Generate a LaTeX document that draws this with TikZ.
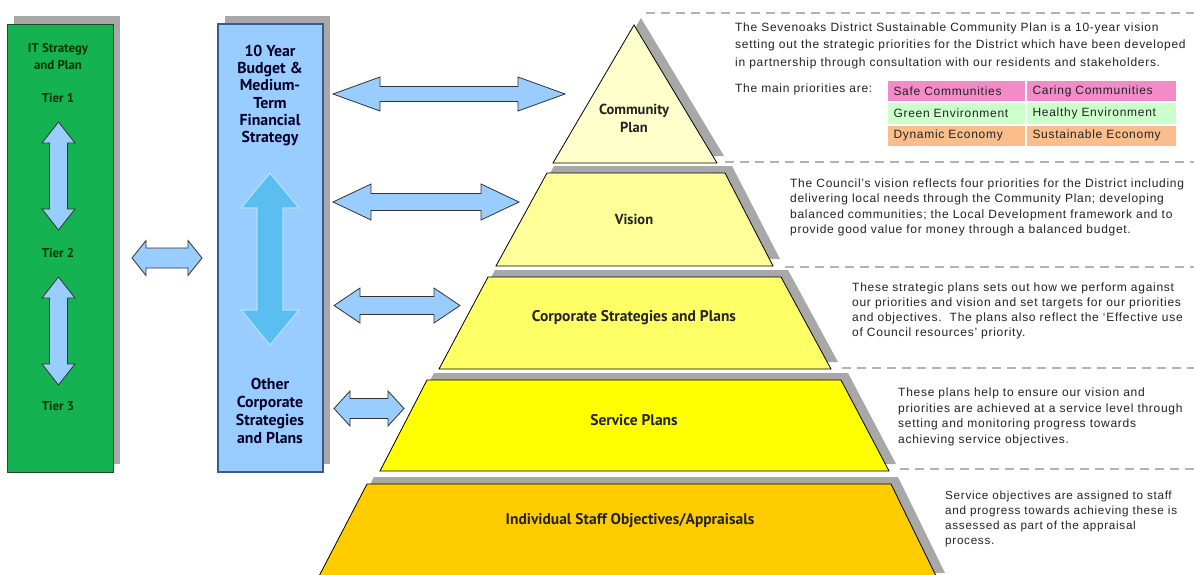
\documentclass[tikz,border=0pt]{standalone}
\usepackage{fontspec}
\setmainfont{PT Sans}
\newfontfamily\bodyfont[LetterSpace=6]{Liberation Sans}
\usetikzlibrary{positioning, shadows}

\definecolor{itgreen}{RGB}{20,178,80}
\definecolor{itline}{RGB}{30,70,40}
\definecolor{budgetblue}{RGB}{153,204,255}
\definecolor{budgetline}{RGB}{60,90,140}
\definecolor{bigarrow}{RGB}{90,190,240}
\definecolor{bigarrowline}{RGB}{175,225,250}
\definecolor{tierA}{RGB}{255,255,204}
\definecolor{tierB}{RGB}{255,255,153}
\definecolor{tierC}{RGB}{255,255,102}
\definecolor{tierD}{RGB}{255,255,0}
\definecolor{tierE}{RGB}{255,204,0}
\definecolor{shadowgray}{RGB}{168,168,168}
\definecolor{dashgray}{RGB}{178,178,178}
\definecolor{prioPink}{RGB}{242,140,200}
\definecolor{prioGreen}{RGB}{204,255,204}
\definecolor{prioOrange}{RGB}{250,190,140}
\definecolor{textgray}{RGB}{35,35,35}

% block arrows: left x, right x, centre y, half shaft, half head, head length
\newcommand{\hdarrow}[6]{%
  \filldraw[blockarrow] (#1,#3) -- (#1+#6,#3-#5) -- (#1+#6,#3-#4) -- (#2-#6,#3-#4)
    -- (#2-#6,#3-#5) -- (#2,#3) -- (#2-#6,#3+#5) -- (#2-#6,#3+#4)
    -- (#1+#6,#3+#4) -- (#1+#6,#3+#5) -- cycle;}
% top y, bottom y, centre x, half shaft, half head, head length
\newcommand{\vdarrow}[7][blockarrow]{%
  \filldraw[#1] (#4,#2) -- (#4+#6,#2+#7) -- (#4+#5,#2+#7) -- (#4+#5,#3-#7)
    -- (#4+#6,#3-#7) -- (#4,#3) -- (#4-#6,#3-#7) -- (#4-#5,#3-#7)
    -- (#4-#5,#2+#7) -- (#4-#6,#2+#7) -- cycle;}

\tikzset{
  blockarrow/.style={fill=budgetblue, draw=black!80, line width=0.8pt},
  bigblockarrow/.style={fill=bigarrow, draw=bigarrowline, line width=1.2pt},
  barshadow/.style={drop shadow={shadow xshift=7pt, shadow yshift=8pt, fill=shadowgray, opacity=1}},
  tiershadow/.style={drop shadow={shadow xshift=7pt, shadow yshift=7pt, fill=shadowgray, opacity=1}},
  sepline/.style={draw=dashgray, line width=2.6pt, dash pattern=on 9pt off 6pt},
  tierlabel/.style={font=\bfseries\fontsize{15.5}{18}\selectfont, text=textgray, inner sep=0pt},
  barlabel/.style={font=\bfseries\fontsize{15.8}{17.2}\selectfont, text=black!85!blue, align=center, inner sep=0pt},
  itlabel/.style={font=\bfseries\fontsize{12.8}{17}\selectfont, text=black!80!green, align=center, inner sep=0pt},
  bodytext/.style={font=\bodyfont\fontsize{12}{15.5}\selectfont, text=textgray, align=left, anchor=north west, inner sep=0pt},
  prio/.style={font=\bodyfont\fontsize{12}{14}\selectfont, text=textgray, anchor=north west, inner xsep=6pt, inner ysep=0pt,
    minimum height=21.3pt, align=left, draw=white, line width=1pt}
}

\begin{document}
\begin{tikzpicture}[x=1pt, y=-1pt]
  \path[use as bounding box, fill=white] (0,0) rectangle (1194,574);

  % left bars
  \filldraw[barshadow, fill=itgreen, draw=itline, line width=0.8pt] (7,24) rectangle (113,472);
  \filldraw[barshadow, fill=budgetblue, draw=budgetline, line width=1.3pt] (218,24) rectangle (323,472);

  \node[itlabel] (itTitle) at (58,56.5) {IT Strategy\\and Plan};
  \node[itlabel] (tierOne) at (58,98) {Tier 1};
  \node[itlabel] (tierTwo) at (58,253) {Tier 2};
  \node[itlabel] (tierThree) at (58,406) {Tier 3};
  \vdarrow{122}{230}{58.5}{9}{16.5}{21}
  \vdarrow{277}{385}{58.5}{9}{16.5}{21}

  \node[barlabel] (budget) at (270,95.5) {10 Year\\Budget \&\\Medium-\\Term\\Financial\\Strategy};
  \node[barlabel, font=\bfseries\fontsize{15.8}{18}\selectfont] (otherPlans) at (270,410.5) {Other\\Corporate\\Strategies\\and Plans};
  \vdarrow[bigblockarrow]{173}{345}{270}{13}{29}{35}

  \hdarrow{132}{202}{258}{10}{17.5}{14}

  % pyramid
  \filldraw[tiershadow, fill=tierA, draw=black, line width=0.8pt] (634,25) -- (717,163) -- (553,163) -- cycle;
  \foreach \yt/\yb/\tl/\tr/\bl/\br/\col in {173/266/547/725/496/773/tierB,
      277/369/488/781/439/831/tierC, 380/471/427/841/380/889/tierD, 484/580/367/891/317/938/tierE}
    \filldraw[tiershadow, fill=\col, draw=black, line width=0.8pt]
      (\tl,\yt) -- (\tr,\yt) -- (\br,\yb) -- (\bl,\yb) -- cycle;

  \node[tierlabel, align=center, font=\bfseries\fontsize{14.5}{18}\selectfont] (community) at (634,118) {Community\\Plan};
  \node[tierlabel, font=\bfseries\fontsize{14.5}{18}\selectfont] (vision) at (634,219) {Vision};
  \node[tierlabel] (corporate) at (634,318) {Corporate Strategies and Plans};
  \node[tierlabel] (service) at (634,420) {Service Plans};
  \node[tierlabel] (staff) at (630,521) {Individual Staff Objectives/Appraisals};

  % arrows to the tiers
  \hdarrow{333}{565}{94}{7.5}{17}{47}
  \hdarrow{333}{519}{202}{8.5}{18}{38}
  \hdarrow{334}{460}{305.5}{9}{17.5}{26}
  \hdarrow{334}{404}{408.5}{10}{17.5}{16}

  % separators
  \draw[sepline] (646,13) -- (1194,13);
  \draw[sepline] (725,162) -- (1194,162);
  \draw[sepline] (785,267) -- (1194,267);
  \draw[sepline] (842,368) -- (1194,368);
  \draw[sepline] (900,469) -- (1194,469);

  % descriptions
  \node[bodytext, font=\bodyfont\fontsize{12}{17.5}\selectfont] (communityText) at (735,22.4)
    {The Sevenoaks District Sustainable Community Plan is a 10-year vision\\
     setting out the strategic priorities for the District which have been developed\\
     in partnership through consultation with our residents and stakeholders.};
  \node[bodytext, anchor=west] (prioText) at (735,89.5) {The main priorities are:};
  \node[prio, fill=prioPink, text width=126pt] (safe) at (887,80) {Safe Communities};
  \node[prio, fill=prioPink, text width=138pt, right=0pt of safe] (caring) {Caring Communities};
  \node[prio, fill=prioGreen, text width=126pt, below=0pt of safe] (green) {Green Environment};
  \node[prio, fill=prioGreen, text width=138pt, right=0pt of green] (healthy) {Healthy Environment};
  \node[prio, fill=prioOrange, text width=126pt, below=0pt of green] (dynamic) {Dynamic Economy};
  \node[prio, fill=prioOrange, text width=138pt, right=0pt of dynamic] (sustainable) {Sustainable Economy};

  \node[bodytext] (visionText) at (790,178.4)
    {The Council’s vision reflects four priorities for the District including\\
     delivering local needs through the Community Plan; developing\\
     balanced communities; the Local Development framework and to\\
     provide good value for money through a balanced budget.};
  \node[bodytext, font=\bodyfont\fontsize{12}{15}\selectfont] (corporateText) at (852,282.4)
    {These strategic plans sets out how we perform against\\
     our priorities and vision and set targets for our priorities\\
     and objectives.\ \ The plans also reflect the ‘Effective use\\
     of Council resources’ priority.};
  \node[bodytext, font=\bodyfont\fontsize{12}{15.7}\selectfont] (serviceText) at (898,387.4)
    {These plans help to ensure our vision and\\
     priorities are achieved at a service level through\\
     setting and monitoring progress towards\\
     achieving service objectives.};
  \node[bodytext, font=\bodyfont\fontsize{11.7}{15.3}\selectfont] (staffText) at (945,490.4)
    {Service objectives are assigned to staff\\
     and progress towards achieving these is\\
     assessed as part of the appraisal\\
     process.};
\end{tikzpicture}
\end{document}
